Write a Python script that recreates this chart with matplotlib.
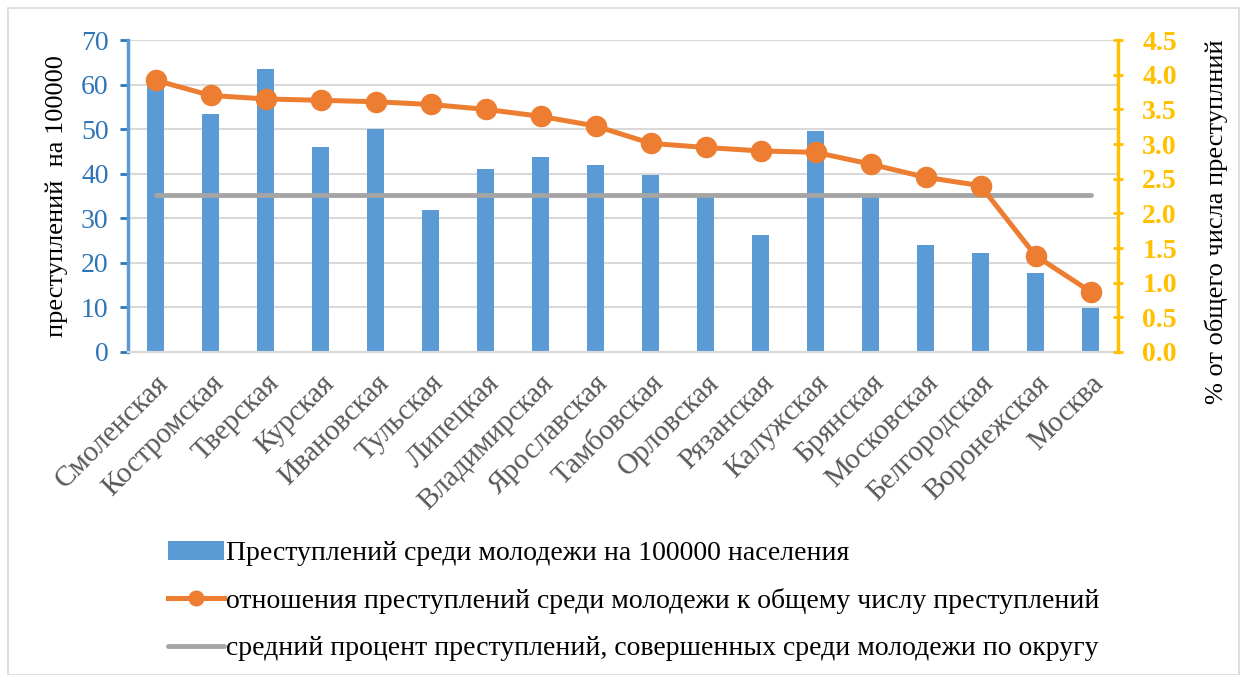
import matplotlib
matplotlib.use("Agg")
import matplotlib.pyplot as plt
from matplotlib.lines import Line2D
from matplotlib.patches import Patch, Rectangle

regions = ["Смоленская", "Костромская", "Тверская", "Курская", "Ивановская",
           "Тульская", "Липецкая", "Владимирская", "Ярославская", "Тамбовская",
           "Орловская", "Рязанская", "Калужская", "Брянская", "Московская",
           "Белгородская", "Воронежская", "Москва"]
crimes_per_100k = [61.0, 53.4, 63.5, 45.9, 50.0, 31.8, 41.0, 43.8, 42.0, 39.7,
                   35.4, 26.3, 49.6, 35.3, 24.1, 22.1, 17.7, 9.9]
youth_share = [3.92, 3.70, 3.65, 3.63, 3.61, 3.57, 3.50, 3.40, 3.26, 3.01,
               2.95, 2.90, 2.88, 2.71, 2.52, 2.40, 1.39, 0.87]
district_avg = 2.26

left_ticks = [0, 10, 20, 30, 40, 50, 60, 70]
right_ticks = [0.0, 0.5, 1.0, 1.5, 2.0, 2.5, 3.0, 3.5, 4.0, 4.5]

FONT = ['Liberation Serif', 'DejaVu Serif']
plt.rcParams['font.family'] = FONT

BLUE = "#5B9BD5"
ORANGE = "#ED7D31"
GRAY = "#A5A5A5"
GOLD = "#FFC000"
TICKBLUE = "#2E75B6"

fig = plt.figure(figsize=(12.4, 6.75), dpi=100)
ax = fig.add_axes([128/1240, 1-352/675, (1118-128)/1240, (352-40)/675])
ax2 = ax.twinx()

x = list(range(len(regions)))
ax.bar(x, crimes_per_100k, width=0.31, color=BLUE, zorder=2)
ax.set_xlim(-0.5, len(regions) - 0.5)
ax.set_ylim(0, 70)
ax.set_yticks(left_ticks)
ax.set_yticklabels([str(t) for t in left_ticks], family=FONT)
ax.yaxis.grid(True, color="#D9D9D9", linewidth=1.5, zorder=0)
ax.set_axisbelow(True)
ax.tick_params(axis='y', colors=TICKBLUE, labelsize=20, direction='out', length=6, width=2, pad=8)
ax.tick_params(axis='x', length=0, labelsize=21, labelcolor="#595959", pad=13)
ax.set_xticks(x)
ax.set_xticklabels(regions, rotation=45, ha='right', rotation_mode='anchor', family=FONT)
for s in ['top', 'right']:
    ax.spines[s].set_visible(False)
ax.spines['left'].set_color(BLUE)
ax.spines['left'].set_linewidth(2.5)
ax.spines['bottom'].set_color("#D9D9D9")
ax.spines['bottom'].set_linewidth(1.5)
ax.set_ylabel("преступлений  на 100000", fontsize=19, color="black", family=FONT)
ax.yaxis.set_label_coords(-60/990, 0.5)

ax2.plot([x[0], x[-1]], [district_avg, district_avg], color=GRAY, linewidth=3.5,
         solid_capstyle='round', zorder=3)
ax2.plot(x, youth_share, color=ORANGE, linewidth=3.6, marker='o', markersize=14.5, zorder=4)
ax2.set_ylim(0, 4.5)
ax2.set_yticks(right_ticks)
ax2.set_yticklabels([f"{t:.1f}" for t in right_ticks], fontweight='bold', family=FONT)
ax2.tick_params(axis='y', colors=GOLD, labelsize=20, direction='inout', length=7, width=2, pad=14)
for s in ['top', 'left', 'bottom']:
    ax2.spines[s].set_visible(False)
ax2.spines['right'].set_color(GOLD)
ax2.spines['right'].set_linewidth(2.5)
ax2.set_ylabel("% от общего числа преступлний", fontsize=19, color="black", rotation=90,
               family=FONT)
ax2.yaxis.set_label_coords((1205-128)/990, (352-222)/312)

handles = [
    Patch(facecolor=BLUE, edgecolor='none'),
    Line2D([0], [0], color=ORANGE, linewidth=3.6, marker='o', markersize=10.5),
    Line2D([0], [0], color=GRAY, linewidth=3.5, solid_capstyle='round'),
]
labels = ["Преступлений среди молодежи на 100000 населения",
          "отношения преступлений среди молодежи к общему числу преступлений",
          "средний процент преступлений, совершенных среди молодежи по округу"]
fig.legend(handles, labels, loc='upper left', bbox_to_anchor=(168/1240, 1-541/675),
           frameon=False, prop={'family': FONT, 'size': 20}, handlelength=2.0,
           handletextpad=0.1, labelspacing=0.78, borderaxespad=0, borderpad=0)

fig.patches.append(Rectangle((8/1240, 0), 1 - 8/1240 - 1/1240, 1 - 8/675, transform=fig.transFigure,
                             fill=False, edgecolor="#D9D9D9", linewidth=1.2))

fig.savefig("out.png", dpi=100)
